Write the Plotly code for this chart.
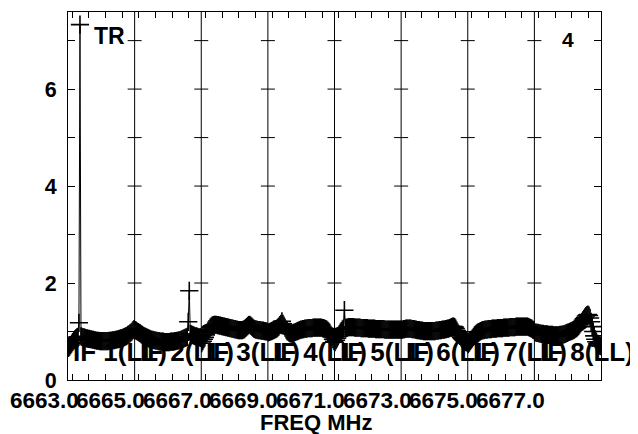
import plotly.graph_objects as go

n_chan = 64
if_names = ["IF 1(LL)", "IF 2(LL)", "IF 3(LL)", "IF 4(LL)",
            "IF 5(LL)", "IF 6(LL)", "IF 7(LL)", "IF 8(LL)"]
freq_labels = ["6663.0", "6665.0", "6667.0", "6669.0",
               "6671.0", "6673.0", "6675.0", "6677.0"]
y_tick_values = [0, 1, 2, 3, 4, 5, 6, 7]
y_tick_text = ["0", "", "2", "", "4", "", "6", ""]
x_title = "FREQ MHz"
corner_left = "TR"
corner_right = "4"

amp_if1 = [0.66, 0.69, 0.72, 0.75, 0.78, 0.81, 0.84, 0.86,
           0.88, 0.89, 1.18, 7.33, 0.90, 0.89, 0.88, 0.88,
           0.87, 0.86, 0.86, 0.85, 0.85, 0.84, 0.84, 0.83,
           0.83, 0.82, 0.82, 0.81, 0.81, 0.81, 0.80, 0.80,
           0.80, 0.80, 0.80, 0.80, 0.80, 0.80, 0.80, 0.81,
           0.81, 0.81, 0.82, 0.82, 0.82, 0.83, 0.83, 0.84,
           0.84, 0.85, 0.86, 0.86, 0.87, 0.88, 0.89, 0.90,
           0.91, 0.93, 0.94, 0.96, 0.98, 1.00, 1.03, 1.05]
amp_if2 = [1.03, 1.02, 1.00, 0.99, 0.97, 0.96, 0.94, 0.93,
           0.91, 0.90, 0.89, 0.88, 0.87, 0.86, 0.85, 0.84,
           0.83, 0.83, 0.82, 0.82, 0.81, 0.81, 0.80, 0.80,
           0.79, 0.79, 0.79, 0.79, 0.78, 0.78, 0.78, 0.78,
           0.78, 0.78, 0.79, 0.79, 0.79, 0.79, 0.80, 0.80,
           0.81, 0.81, 0.82, 0.82, 0.83, 0.84, 0.85, 0.86,
           0.87, 0.88, 0.89, 1.20, 1.84, 0.95, 0.94, 0.93,
           0.92, 0.91, 0.90, 0.90, 0.89, 0.88, 0.88, 0.87]
amp_if3 = [0.76, 0.80, 0.84, 0.88, 0.93, 0.98, 1.02, 1.05,
           1.08, 1.10, 1.12, 1.13, 1.14, 1.14, 1.14, 1.13,
           1.13, 1.12, 1.12, 1.11, 1.11, 1.10, 1.10, 1.09,
           1.09, 1.08, 1.08, 1.07, 1.07, 1.06, 1.06, 1.05,
           1.05, 1.04, 1.04, 1.03, 1.03, 1.03, 1.03, 1.03,
           1.04, 1.05, 1.07, 1.09, 1.11, 1.13, 1.14, 1.12,
           1.10, 1.08, 1.06, 1.05, 1.04, 1.04, 1.03, 1.03,
           1.03, 1.02, 1.02, 1.02, 1.01, 1.01, 1.00, 1.00]
amp_if4 = [0.98, 0.99, 1.00, 1.01, 1.02, 1.03, 1.04, 1.05,
           1.06, 1.08, 1.10, 1.13, 1.16, 1.21, 1.16, 1.12,
           1.08, 1.04, 1.01, 0.99, 0.97, 0.96, 0.96, 0.96,
           0.97, 0.98, 0.99, 1.00, 1.01, 1.02, 1.03, 1.04,
           1.04, 1.05, 1.05, 1.06, 1.06, 1.06, 1.07, 1.07,
           1.07, 1.07, 1.07, 1.08, 1.08, 1.08, 1.08, 1.08,
           1.08, 1.08, 1.08, 1.08, 1.07, 1.07, 1.06, 1.05,
           1.04, 1.02, 1.00, 0.97, 0.93, 0.89, 0.84, 0.80]
amp_if5 = [0.78, 0.82, 0.86, 0.90, 0.94, 0.98, 1.01, 1.04,
           1.06, 1.44, 1.07, 1.08, 1.08, 1.09, 1.09, 1.09,
           1.09, 1.09, 1.09, 1.08, 1.08, 1.08, 1.08, 1.08,
           1.08, 1.07, 1.07, 1.07, 1.07, 1.07, 1.07, 1.07,
           1.06, 1.06, 1.06, 1.06, 1.06, 1.06, 1.06, 1.05,
           1.05, 1.05, 1.05, 1.05, 1.05, 1.05, 1.05, 1.05,
           1.04, 1.04, 1.04, 1.04, 1.04, 1.04, 1.04, 1.04,
           1.04, 1.04, 1.04, 1.04, 1.04, 1.04, 1.04, 1.04]
amp_if6 = [1.04, 1.04, 1.05, 1.05, 1.06, 1.06, 1.06, 1.06,
           1.06, 1.06, 1.05, 1.05, 1.05, 1.04, 1.04, 1.03,
           1.03, 1.03, 1.02, 1.02, 1.02, 1.01, 1.01, 1.01,
           1.01, 1.01, 1.01, 1.01, 1.01, 1.01, 1.01, 1.01,
           1.01, 1.02, 1.02, 1.02, 1.03, 1.03, 1.03, 1.04,
           1.04, 1.04, 1.05, 1.05, 1.06, 1.06, 1.07, 1.08,
           1.09, 1.10, 1.10, 1.09, 1.06, 1.02, 0.98, 0.94,
           0.91, 0.88, 0.85, 0.83, 0.81, 0.79, 0.78, 0.77]
amp_if7 = [0.74, 0.77, 0.80, 0.83, 0.86, 0.89, 0.92, 0.94,
           0.96, 0.98, 0.99, 1.00, 1.01, 1.02, 1.03, 1.03,
           1.04, 1.04, 1.04, 1.05, 1.05, 1.05, 1.05, 1.06,
           1.06, 1.06, 1.06, 1.06, 1.07, 1.07, 1.07, 1.07,
           1.07, 1.07, 1.08, 1.08, 1.08, 1.08, 1.08, 1.08,
           1.09, 1.09, 1.09, 1.09, 1.09, 1.09, 1.10, 1.10,
           1.10, 1.10, 1.10, 1.10, 1.10, 1.10, 1.10, 1.10,
           1.10, 1.10, 1.09, 1.08, 1.07, 1.06, 1.04, 1.03]
amp_if8 = [0.98, 0.98, 0.97, 0.97, 0.96, 0.96, 0.95, 0.95,
           0.95, 0.94, 0.94, 0.94, 0.94, 0.93, 0.93, 0.93,
           0.93, 0.93, 0.92, 0.92, 0.92, 0.92, 0.92, 0.92,
           0.93, 0.93, 0.93, 0.94, 0.94, 0.95, 0.96, 0.97,
           0.98, 0.99, 1.00, 1.01, 1.02, 1.03, 1.04, 1.06,
           1.07, 1.09, 1.11, 1.14, 1.17, 1.20, 1.23, 1.26,
           1.29, 1.32, 1.34, 1.35, 1.33, 1.28, 1.20, 1.10,
           1.00, 0.91, 0.84, 0.79, 0.75, 0.72, 0.71, 0.70]

amps = [amp_if1, amp_if2, amp_if3, amp_if4, amp_if5, amp_if6, amp_if7, amp_if8]
n_if = len(amps)
x_max = n_if * n_chan
y_max = 7.59

FONT = "Liberation Sans, Arial, sans-serif"

fig = go.Figure()
for i, amp in enumerate(amps):
    xs = [i * n_chan + c + 0.5 for c in range(len(amp))]
    fig.add_trace(go.Scatter(
        x=xs, y=amp, mode="lines+markers",
        line=dict(color="black", width=1),
        marker=dict(symbol="cross-thin", size=13, color="black",
                    line=dict(color="black", width=1.6)),
        showlegend=False, hoverinfo="skip"))

shapes = []
for i in range(1, n_if):
    xb = i * n_chan
    shapes.append(dict(type="line", xref="x", yref="paper", x0=xb, x1=xb, y0=0, y1=1,
                       line=dict(color="black", width=1)))
    for yv in y_tick_values[1:]:
        shapes.append(dict(type="line", xref="x", yref="y", xsizemode="pixel", xanchor=xb,
                           x0=-7, x1=7, y0=yv, y1=yv, line=dict(color="black", width=1)))

x_minor = [i * n_chan + 4 + 16 * k for i in range(n_if) for k in range(4)]

annotations = []
for i, lab in enumerate(freq_labels):
    annotations.append(dict(text=lab, xref="paper", yref="paper",
                            x=(i * n_chan - 23) / x_max, y=0, xanchor="center", yanchor="middle",
                            yshift=-20, showarrow=False,
                            font=dict(family=FONT, size=22.5, color="black", weight="bold")))
for i, lab in enumerate(if_names):
    annotations.append(dict(text=lab, xref="x", yref="y", x=i * n_chan + 3, y=0.58,
                            xanchor="left", yanchor="middle", showarrow=False,
                            font=dict(family=FONT, size=26, color="black", weight="bold")))
annotations.append(dict(text=x_title, xref="paper", yref="paper", x=0.465, y=0,
                        xanchor="center", yanchor="middle", yshift=-42, showarrow=False,
                        font=dict(family=FONT, size=22, color="black", weight="bold")))
annotations.append(dict(text=corner_left, xref="x", yref="y", x=23, y=7.09,
                        xanchor="left", yanchor="middle", showarrow=False,
                        font=dict(family=FONT, size=23, color="black", weight="bold")))
annotations.append(dict(text=corner_right, xref="x", yref="y", x=480.5, y=7.03,
                        xanchor="center", yanchor="middle", showarrow=False,
                        font=dict(family=FONT, size=21, color="black", weight="bold")))

# the page body adds an 8 px offset, so the figure is sized to keep the frame in place
fig.update_layout(
    width=630, height=426,
    margin=dict(l=60, r=37, t=4, b=54),
    paper_bgcolor="white", plot_bgcolor="white",
    shapes=shapes, annotations=annotations,
    xaxis=dict(range=[0, x_max], tickvals=x_minor, ticks="inside", ticklen=6,
               tickcolor="black", showticklabels=False, showline=True, linecolor="black",
               linewidth=1, mirror="ticks", showgrid=False, zeroline=False),
    yaxis=dict(range=[0, y_max], tickvals=y_tick_values, ticktext=y_tick_text,
               ticks="inside", ticklen=7, tickcolor="black", showline=True,
               linecolor="black", linewidth=1, mirror="ticks", showgrid=False,
               zeroline=False, ticklabelstandoff=6,
               tickfont=dict(family=FONT, size=21.5, color="black", weight="bold")),
)

fig.write_html("out.html")
